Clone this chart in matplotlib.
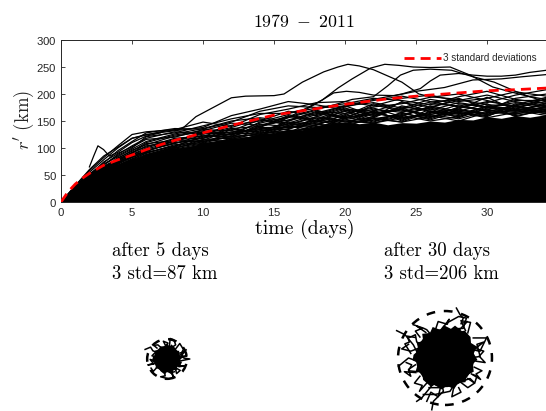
# -*- coding: utf-8 -*-
"""
r' against time for all tracks, and the track shapes after 5 and 30 days
"""
import matplotlib
matplotlib.use('Agg')
import matplotlib.pyplot as plt
from matplotlib.patches import Circle

plt.rcParams['mathtext.fontset'] = 'cm'
plt.rcParams['axes.unicode_minus'] = False
plt.rcParams['axes.formatter.use_mathtext'] = True

W, H = 546., 411.

# 3 std curve
std_t = [0, 0.5, 1, 1.5, 2, 3, 4, 5, 6, 7, 8, 10, 12, 15, 18, 20, 23, 25, 28, 30, 32, 34.2]
std_r = [0, 19, 33, 44, 53, 68, 78, 87, 97, 106, 114, 128, 142, 161, 173, 181, 191, 196, 202, 206, 208, 211]

# top of the solid black mass
mass_t = [0, 0.5, 1, 2, 3, 4, 5, 6, 7, 8, 9, 10, 11, 12, 13, 14, 15, 16, 17, 18, 19, 20, 21, 22, 23, 24, 25, 26, 27, 28, 29, 30, 31, 32, 33, 34.2]
mass_r = [0, 14, 26, 44, 59, 70, 78, 86, 91, 99, 102, 110, 112, 118, 120, 127, 128, 135, 134, 141, 144, 148, 145, 148, 143, 147, 146, 150, 148, 153, 152, 158, 155, 160, 157, 162]

# single tracks above the mass
a_t = [0, 1, 2, 3, 5, 7, 8.5, 9.5, 10.5, 12, 13, 15, 15.7, 17, 18.5, 19.5, 20.2, 21, 22, 24, 25.2, 26, 28]
a_r = [0, 30, 60, 85, 118, 130, 135, 158, 172, 193, 196, 197, 200, 222, 241, 250, 255, 252, 245, 222, 200, 195, 190]

b_t = [12, 14, 15.5, 17, 18.4, 19.5, 20.5, 21.8, 22.8, 23.8, 24.8, 26, 27.4, 28.8, 30.4, 31.5, 33, 34.2]
b_r = [125, 140, 150, 170, 189, 211, 228, 248, 255, 253, 250, 249, 250, 235, 213, 205, 195, 190]

c_t = [15, 17, 19, 20.5, 22, 23, 23.9, 24.8, 26, 27.5, 29, 30.5, 32, 33, 34.2]
c_r = [150, 165, 178, 190, 195, 215, 235, 244, 246, 244, 232, 222, 205, 195, 185]

d_t = [18, 20, 22, 24, 25.3, 26, 26.7, 28, 29, 30, 31, 32, 33, 34.2]
d_r = [165, 178, 190, 200, 210, 224, 235, 238, 235, 233, 233, 235, 240, 244]

e_t = [16, 17.3, 18.4, 19.2, 20.1, 21, 22, 23.5, 25, 27, 29, 31, 32.5, 34.2]
e_r = [165, 172, 189, 202, 205, 203, 198, 197, 205, 212, 226, 228, 232, 236]

f_t = [2, 2.3, 2.6, 3, 3.4, 4, 5, 6, 7]
f_r = [65, 85, 104, 97, 85, 92, 110, 122, 128]

# tracks between the mass and the top tracks, same time steps for all
grid_t = [0, 1, 2, 3, 4, 5, 6, 8, 10, 12, 14, 16, 18, 20, 22, 24, 26, 28, 30, 32, 34.2]
band_r = [
    [0, 28, 55, 78, 100, 118, 125, 132, 138, 160, 172, 186, 180, 170, 165, 172, 185, 190, 180, 178, 190],
    [0, 26, 50, 72, 95, 112, 128, 136, 135, 148, 168, 178, 175, 182, 192, 188, 180, 195, 205, 190, 182],
    [0, 30, 58, 82, 104, 125, 130, 134, 148, 140, 162, 172, 184, 186, 178, 192, 198, 186, 192, 204, 196],
    [0, 24, 46, 68, 88, 104, 118, 130, 126, 142, 150, 168, 160, 176, 188, 196, 186, 176, 184, 198, 208],
    [0, 27, 52, 70, 84, 98, 112, 126, 136, 150, 156, 150, 168, 164, 176, 182, 194, 200, 188, 176, 186],
    [0, 25, 48, 66, 80, 96, 106, 122, 130, 128, 146, 158, 154, 172, 168, 184, 176, 188, 198, 186, 176],
    [0, 23, 44, 62, 78, 92, 102, 118, 122, 136, 140, 152, 166, 158, 172, 166, 182, 178, 170, 192, 200],
    [0, 26, 50, 74, 90, 102, 116, 120, 134, 132, 152, 146, 162, 178, 160, 176, 170, 184, 176, 168, 184],
    [0, 22, 42, 60, 76, 90, 104, 112, 128, 124, 138, 160, 148, 160, 182, 170, 162, 174, 186, 178, 170],
    [0, 24, 46, 64, 78, 88, 100, 116, 118, 130, 134, 144, 158, 150, 156, 178, 168, 160, 178, 172, 192],
    [0, 21, 40, 58, 72, 84, 96, 108, 124, 120, 144, 140, 152, 168, 150, 160, 176, 166, 158, 182, 174],
    [0, 23, 43, 60, 74, 86, 94, 110, 114, 134, 130, 148, 144, 156, 166, 154, 164, 180, 168, 162, 178],
    [0, 20, 38, 56, 70, 82, 92, 104, 120, 126, 136, 134, 156, 148, 158, 174, 158, 170, 164, 176, 166],
    [0, 22, 41, 57, 68, 80, 90, 106, 110, 128, 126, 142, 150, 142, 170, 150, 172, 156, 174, 170, 160],
    [0, 19, 37, 54, 68, 78, 88, 102, 116, 118, 132, 138, 142, 162, 148, 166, 152, 168, 182, 158, 172],
    [0, 21, 39, 55, 66, 76, 86, 100, 112, 122, 124, 136, 146, 152, 164, 156, 160, 150, 166, 164, 168],
    [0, 20, 37, 52, 64, 74, 84, 98, 108, 116, 128, 130, 140, 146, 154, 148, 168, 164, 160, 174, 163],
    [0, 18, 35, 50, 62, 72, 82, 96, 106, 114, 122, 132, 136, 150, 146, 160, 150, 158, 172, 160, 170],
    [0, 25, 49, 69, 86, 100, 121, 128, 141, 154, 164, 164, 174, 178, 184, 174, 190, 182, 176, 184, 178],
    [0, 23, 45, 63, 82, 94, 110, 124, 132, 146, 142, 156, 170, 154, 180, 168, 174, 192, 174, 188, 188],
    [0, 24, 47, 65, 79, 91, 108, 114, 126, 138, 154, 142, 158, 174, 158, 186, 166, 172, 194, 170, 180],
    [0, 22, 43, 61, 75, 87, 98, 112, 130, 124, 148, 162, 150, 164, 174, 158, 178, 168, 162, 180, 194],
    [0, 20, 39, 59, 71, 85, 95, 109, 118, 136, 128, 150, 164, 156, 162, 172, 156, 176, 170, 166, 176],
    [0, 21, 40, 56, 73, 83, 93, 114, 112, 126, 138, 138, 148, 170, 154, 162, 174, 162, 178, 172, 164],
    [0, 19, 36, 53, 65, 79, 91, 103, 122, 120, 126, 146, 138, 154, 168, 152, 166, 158, 176, 168, 182],
    [0, 18, 34, 51, 63, 75, 87, 101, 109, 122, 134, 128, 152, 144, 152, 164, 154, 172, 162, 170, 174],
    [0, 20, 36, 52, 67, 77, 85, 99, 115, 112, 124, 140, 134, 158, 146, 156, 162, 154, 168, 178, 166],
    [0, 17, 33, 49, 61, 73, 83, 97, 104, 118, 120, 126, 144, 140, 156, 148, 158, 166, 156, 166, 172],
]

xticks = [0, 5, 10, 15, 20, 25, 30]
yticks = [0, 50, 100, 150, 200, 250, 300]

# solid middle of each blob, radius in km
solid5 = 58
solid30 = 128

# outline of the rough edge of each blob, km from the genesis point
core5_x = [-62, -48, -52, -34, -30, -12, -4, 12, 20, 36, 38, 54, 50, 66, 56, 60, 42, 44, 24, 18, 0, -10, -28, -34, -50, -48, -66]
core5_y = [8, 18, 38, 40, 56, 54, 68, 56, 64, 48, 36, 36, 18, 6, -6, -24, -32, -50, -48, -66, -56, -68, -54, -44, -40, -20, -10]
core30_x = [-138, -116, -124, -96, -100, -66, -54, -22, -6, 26, 44, 74, 86, 112, 114, 140, 126, 142, 122, 126, 96, 90, 58, 40, 8, -14, -46, -62, -96, -100, -128, -118, -142]
core30_y = [14, 34, 66, 76, 106, 110, 136, 124, 144, 128, 142, 118, 120, 92, 66, 50, 20, -8, -26, -60, -76, -106, -110, -136, -122, -138, -118, -126, -96, -70, -56, -22, -10]

# loose tracks sticking out of the blobs
loose5 = [
    ([-30, -62, -72, -96], [24, 36, 52, 42]),
    ([-20, -40, -58, -44], [44, 62, 60, 48]),
    ([10, 14, 30, 38, 26], [50, 90, 84, 62, 54]),
    ([30, 56, 72, 62, 84], [34, 68, 42, 24, 40]),
    ([40, 66, 74, 100, 60], [14, 20, 4, 0, -8]),
    ([40, 62, 52, 78, 46], [-12, -14, -34, -30, -30]),
    ([34, 42, 58, 40], [-30, -64, -50, -40]),
    ([-36, -60, -70], [-28, -54, -40]),
    ([-12, -8, -28, 2], [-50, -74, -78, -86]),
    ([-30, -66, -50], [4, 14, 30]),
    ([20, 28, 18, 32], [-50, -78, -60, -56]),
    ([44, 76, 58, 88, 50], [24, 30, 10, 14, 2]),
    ([-50, -74, -58, -84, -48], [-8, -2, -22, -26, -18]),
    ([-6, -16, 4, -2], [58, 78, 70, 54]),
]
loose30 = [
    ([-212, -175, -139, -117], [120, 102, 58, 15]),
    ([-204, -160, -117, -95], [-36, 0, -15, -5]),
    ([-139, -95, -80, -60], [146, 131, 124, 100]),
    ([-160, -130, -124, -100], [88, 102, 70, 60]),
    ([50, 66, 80, 70, 98, 60], [219, 190, 175, 150, 160, 120]),
    ([7, 60, 94, 80, 40], [153, 182, 175, 130, 128]),
    ([124, 182, 153, 110], [88, 88, 29, 40]),
    ([110, 154, 140, 170, 118], [0, 7, 60, 70, 30]),
    ([124, 140, 130, 100], [-73, -80, -110, -90]),
    ([-124, -102, -66, -37], [-190, -175, -131, -95]),
    ([-58, -51, -7, -15], [-227, -190, -146, -110]),
    ([-95, -44, 22, 44, 10], [-160, -160, -146, -110, -100]),
    ([-80, -62, -30, -20, -70], [-190, -150, -170, -130, -130]),
    ([-160, -190, -150, -118], [60, 40, 30, 42]),
    ([-170, -146, -160, -120], [-20, -30, -56, -60]),
    ([90, 70, 112, 100], [120, 164, 156, 110]),
    ([40, 30, 70, 60], [-120, -170, -150, -130]),
    ([-150, -176, -156, -166, -130], [20, 62, 70, 96, 90]),
    ([-130, -160, -150, -178, -128], [-30, -50, -80, -60, -64]),
    ([-110, -130, -100, -124, -84], [92, 118, 130, 140, 112]),
    ([140, 170, 150, 176, 136], [40, 30, 8, -20, -14]),
    ([128, 162, 136, 156, 116], [-40, -56, -70, -94, -70]),
    ([-40, -30, 10, 18, -10], [130, 160, 148, 170, 130]),
    ([60, 100, 130, 110, 80], [-100, -130, -110, -90, -100]),
    ([-110, -134, -100, -112, -80], [-80, -110, -120, -146, -110]),
]

fig = plt.figure(figsize=(W / 100, H / 100), dpi=100)
fig.patch.set_facecolor('white')

#---------------- top panel
ax = fig.add_axes([61 / W, 1 - 202 / H, (W - 61) / W, 162 / H])
lw = 0.9
ax.fill_between(mass_t, 0, mass_r, color='k', lw=0, zorder=2)
for r in band_r:
    ax.plot(grid_t, r, color='k', lw=lw, zorder=2)
for t, r in ((a_t, a_r), (b_t, b_r), (c_t, c_r), (d_t, d_r), (e_t, e_r), (f_t, f_r)):
    ax.plot(t, r, color='k', lw=lw, zorder=2)
line, = ax.plot(std_t, std_r, color='r', ls=(0, (3.6, 2.2)), lw=2, zorder=3,
                label='3 standard deviations')

ax.set_xlim(0, 34.15)
ax.set_ylim(0, 300)
ax.set_xticks(xticks)
ax.set_yticks(yticks)
ax.tick_params(direction='in', length=3, width=0.6, top=True, right=False,
               labelsize=8.2, labelcolor='#262626', color='#262626', pad=3)
for lab in ax.get_xticklabels() + ax.get_yticklabels():
    lab.set_family('Liberation Sans')
for s in ax.spines.values():
    s.set_linewidth(0.7)
    s.set_color('#262626')
ax.spines['right'].set_visible(False)

ax.legend(loc='upper right', bbox_to_anchor=(0.995, 0.96), frameon=False,
          prop={'family': 'Liberation Sans', 'size': 7.1}, handlelength=3.8,
          handletextpad=0.2, borderpad=0.2, labelcolor='#262626')

fig.text(304 / W, 1 - 22 / H, r'$\mathrm{1979\ -\ 2011}$', ha='center', va='center', fontsize=12.8)
fig.text(305 / W, 1 - 229 / H, 'time (days)', family='cmr10', ha='center', va='center', fontsize=14.3)
fig.text(24 / W, 1 - 120 / H, r"$r'\ \mathrm{(km)}$", ha='center', va='center', rotation=90,
         fontsize=13.5, color='#262626')

fig.text(112 / W, 1 - 251 / H, 'after 5 days', family='cmr10', ha='left', va='center', fontsize=13.5)
fig.text(112 / W, 1 - 274 / H, '3 std=87 km', family='cmr10', ha='left', va='center', fontsize=13.5)
fig.text(384 / W, 1 - 251 / H, 'after 30 days', family='cmr10', ha='left', va='center', fontsize=13.5)
fig.text(384 / W, 1 - 274 / H, '3 std=206 km', family='cmr10', ha='left', va='center', fontsize=13.5)

#---------------- blobs
def blob(cx, cy, std, solid, core_x, core_y, loose):
    half = 62.
    b = fig.add_axes([(cx - half) / W, 1 - (cy + half) / H, 2 * half / W, 2 * half / H])
    b.set_xlim(-half / 0.228, half / 0.228)
    b.set_ylim(-half / 0.228, half / 0.228)
    b.axis('off')
    b.add_patch(Circle((0, 0), solid, color='k', lw=0))
    b.fill(core_x, core_y, color='k', lw=0)
    for x, y in loose:
        b.plot(x, y, color='k', lw=1.1)
    b.add_patch(Circle((0, 0), std, fill=False, ec='k', lw=1.8, ls=(0, (3.5, 3.5))))

blob(167, 359, 87, solid5, core5_x, core5_y, loose5)
blob(445, 358, 206, solid30, core30_x, core30_y, loose30)

fig.savefig('out.png', dpi=100)
